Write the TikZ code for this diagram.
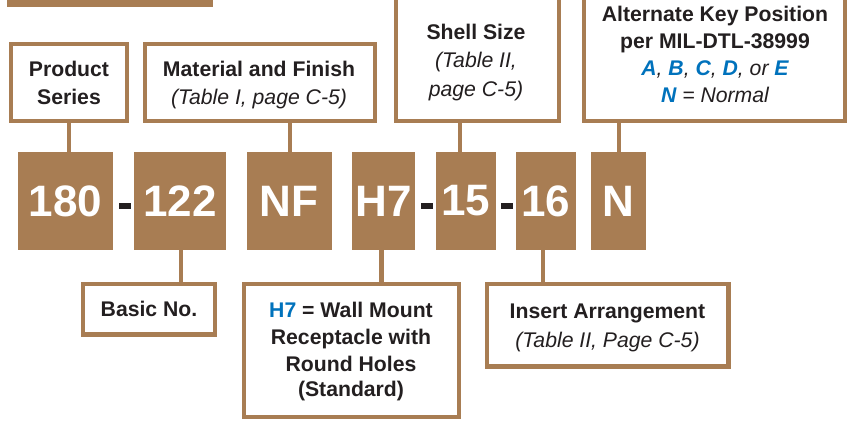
\documentclass[tikz,border=0pt]{standalone}
\usepackage{fontspec}
\setmainfont{Liberation Sans}
\definecolor{brn}{RGB}{168,125,83}
\definecolor{ink}{RGB}{35,31,32}
\definecolor{blu}{RGB}{0,114,188}
\newcommand{\bk}[1]{{\color{blu}\bfseries #1}}
\begin{document}
\begin{tikzpicture}[x=1pt,y=-1pt,
  lbox/.style={draw=brn, line width=4.2pt, fill=white, inner sep=0pt, outer sep=0pt},
  codebox/.style={fill=brn, inner sep=0pt, outer sep=0pt, text=white, minimum height=98pt,
    font=\fontsize{44}{44}\selectfont\bfseries},
  bl/.style={anchor=base, inner sep=0pt, text=ink, font=\fontsize{21.2}{24}\selectfont\bfseries},
  itl/.style={anchor=base, inner sep=0pt, text=ink, font=\fontsize{21.2}{24}\selectfont\itshape},
  conn/.style={draw=brn, line width=4.2pt},
  hyph/.style={fill=ink, inner sep=0pt, outer sep=0pt, minimum width=12pt, minimum height=6pt}
]
\useasboundingbox (0,0) rectangle (850,424);
\clip (0,0) rectangle (850,424);

% top bar
\fill[brn] (7,-5) rectangle (213,7);

% label boxes (outer edges minus line width)
\node[lbox, minimum width=115.8pt, minimum height=76.8pt] (ps) at (69,82.5) {};
\node[lbox, minimum width=229.8pt, minimum height=76.8pt] (mat) at (260,82.5) {};
\node[lbox, minimum width=162.8pt, minimum height=128.8pt] (shell) at (477.5,56.5) {};
\node[lbox, minimum width=260.8pt, minimum height=128.8pt] (alt) at (714.5,56.5) {};
\node[lbox, minimum width=131.8pt, minimum height=50.3pt] (basic) at (149,309.25) {};
\node[lbox, minimum width=214.8pt, minimum height=132.8pt] (hbox) at (351.5,350.5) {};
\node[lbox, minimum width=241.8pt, minimum height=82.3pt] (ins) at (607.5,325.25) {};

% code boxes
\node[codebox, minimum width=95pt] (c180) at (65.5,201) {180};
\node[codebox, minimum width=91.7pt] (c122) at (180.2,201) {122};
\node[codebox, minimum width=85.5pt] (cNF) at (289.25,201) {NF};
\node[codebox, minimum width=62.7pt] (cH7) at (383.65,201) {H7};
\node[codebox, minimum width=60pt] (c15) at (465.7,201) {15};
\node[codebox, minimum width=60pt] (c16) at (545.7,201) {16};
\node[codebox, minimum width=54.4pt] (cN) at (618.5,201) {N};

% hyphens
\node[hyph] (d1) at (124.5,206.3) {};
\node[hyph] (d2) at (426.7,206) {};
\node[hyph] (d3) at (506.7,206) {};

% connector anchor points
\coordinate (k180) at (69,152);
\coordinate (kNF) at (290,152);
\coordinate (k15) at (460,152);
\coordinate (kN) at (619,152);
\coordinate (k122) at (181,250);
\coordinate (kH7) at (381.5,250);
\coordinate (k16) at (542.7,250);

\draw[conn] (k180 |- ps.south) -- (k180);
\draw[conn] (kNF |- mat.south) -- (kNF);
\draw[conn] (k15 |- shell.south) -- (k15);
\draw[conn] (kN |- alt.south) -- (kN);
\draw[conn] (k122) -- (k122 |- basic.north);
\draw[conn] (kH7) -- (kH7 |- hbox.north);
\draw[conn] (k16) -- (k16 |- ins.north);

% texts
\node[bl] (ps1) at (69,76.7) {Product};
\node[bl] (ps2) at (69,104) {Series};
\node[bl] (mat1) at (259,76.7) {Material and Finish};
\node[itl] (mat2) at (259,104) {(Table I, page C-5)};
\node[bl] (sh1) at (476,39.3) {Shell Size};
\node[itl] (sh2) at (476,67) {(Table II,};
\node[itl] (sh3) at (476,96) {page C-5)};
\node[bl] (al1) at (715,21.7) {Alternate Key Position};
\node[bl] (al2) at (715,48) {per MIL-DTL-38999};
\node[itl] (al3) at (715,75.5) {\bk{A}, \bk{B}, \bk{C}, \bk{D}, or \bk{E}};
\node[itl] (al4) at (715,102.5) {\bk{N} = Normal};
\node[bl] (ba1) at (149,316) {Basic No.};
\node[bl] (h1) at (351,317.3) {{\color{blu}H7} = Wall Mount};
\node[bl] (h2) at (351,344.3) {Receptacle with};
\node[bl] (h3) at (351,371.5) {Round Holes};
\node[bl] (h4) at (351,396.7) {(Standard)};
\node[bl] (in1) at (607.5,318.3) {Insert Arrangement};
\node[itl] (in2) at (607.5,347.3) {(Table II, Page C-5)};
\end{tikzpicture}
\end{document}
